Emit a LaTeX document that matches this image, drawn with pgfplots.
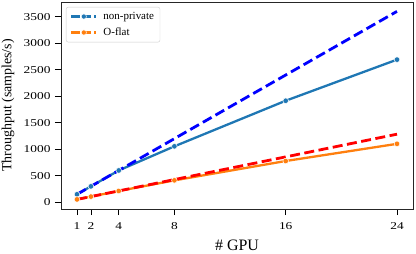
\documentclass[border=0pt]{standalone}
\usepackage{fontspec}
\setmainfont{Liberation Serif}
\newfontfamily\tickfont{Liberation Serif}[FakeStretch=1.28]
\usepackage{pgfplots}
\pgfplotsset{compat=1.18}
\definecolor{tblue}{HTML}{1F77B4}
\definecolor{torange}{HTML}{FF7F0E}
\begin{document}
\begin{tikzpicture}
\path[use as bounding box] (-61bp,-45bp) rectangle (355bp,209bp);
\begin{axis}[
 at={(0,0)}, anchor=south west,
 scale only axis, width=352bp, height=207bp,
 xmin=-0.15, xmax=25.15, ymin=-127, ymax=3777,
 xtick={1,2,4,8,16,24}, ytick={0,500,...,3500},
 tick align=outside, tick pos=left,
 major tick length=6bp,
 tick style={black, line width=0.8bp},
 axis line style={line width=0.8bp, black!85},
 ticklabel style={font=\tickfont\fontsize{10.5}{11}\selectfont},
 xticklabel style={yshift=-4bp},
 yticklabel style={xshift=-1bp},
 /pgf/number format/assume math mode=true,
 scaled y ticks=false,
 yticklabel style={/pgf/number format/1000 sep={}},
 xlabel={\# GPU}, ylabel={Throughput (samples/s)},
 xlabel style={font=\fontsize{16}{17}\selectfont, at={(axis description cs:0.5,-0.1739)}, anchor=center},
 ylabel style={font=\fontsize{14}{15}\selectfont, at={(axis description cs:-0.1506,0.5)}, anchor=center},
 legend style={at={(0.0142,0.976)}, anchor=north west, draw=black!20,
   rounded corners=2bp, font=\fontsize{11}{12}\selectfont,
   inner xsep=4bp, inner ysep=3bp, row sep=3bp},
 legend cell align=left,
 legend image code/.code={\draw[mark repeat=2,mark phase=2,#1] plot coordinates {(0bp,0bp) (12.5bp,0bp) (25bp,0bp)};},
]
\addplot[forget plot, tblue, line width=2.3bp, mark=*, mark size=2.8bp,
  mark options={solid, fill=tblue, draw=white, line width=0.5bp}]
  coordinates {(1,150) (2,300) (4,600) (8,1055) (16,1915) (24,2690)};
\addplot[forget plot, torange, line width=2.3bp, mark=*, mark size=2.8bp,
  mark options={solid, fill=torange, draw=white, line width=0.5bp}]
  coordinates {(1,54) (2,107) (4,213) (8,413) (16,778) (24,1102)};
\addplot[forget plot, blue, line width=2.8bp, dash pattern=on 10bp off 4.5bp]
  coordinates {(1,150) (2,300) (4,600) (8,1200) (16,2400) (24,3600)};
\addplot[forget plot, red, line width=2.8bp, dash pattern=on 10bp off 4.5bp]
  coordinates {(1,53.5) (2,107) (4,214) (8,428) (16,856) (24,1284)};
\addlegendimage{tblue, line width=2.3bp, dash pattern=on 8.5bp off 3bp, mark=*, mark size=2.6bp, mark options={solid, fill=tblue, draw=white, line width=0.5bp}}
\addlegendentry{\hspace{4bp}non-private}
\addlegendimage{torange, line width=2.3bp, dash pattern=on 8.5bp off 3bp, mark=*, mark size=2.6bp, mark options={solid, fill=torange, draw=white, line width=0.5bp}}
\addlegendentry{\hspace{4bp}O-flat}
\end{axis}
\end{tikzpicture}
\end{document}
